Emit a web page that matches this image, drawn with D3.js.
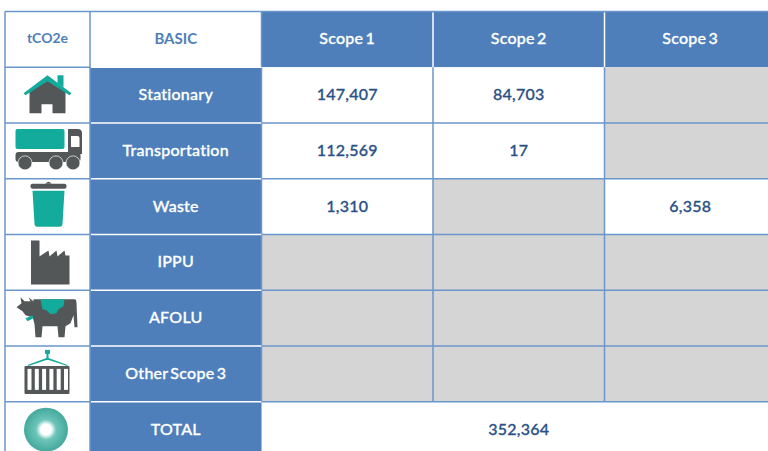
<!DOCTYPE html>
<html>
<head>
<meta charset="utf-8">
<script src="https://cdn.jsdelivr.net/npm/d3@7"></script>
<style>
  html, body { margin: 0; padding: 0; background: #fff; overflow: hidden; }
  svg { display: block; }
  text { font-family: Lato, "Open Sans", sans-serif; font-weight: 500; text-anchor: middle; dominant-baseline: central; font-size: 16px; letter-spacing: 0.25px; word-spacing: -2px; stroke-width: 0.3px; }
  text.strong { font-weight: 700; letter-spacing: 0; stroke-width: 0; }
</style>
</head>
<body>
<svg id="graphsvg" width="768" height="451"></svg>
<script>
var unitLabel = "tCO2e";
var basicLabel = "BASIC";
var scopes = ["Scope 1", "Scope 2", "Scope 3"];
var categories = ["Stationary", "Transportation", "Waste", "IPPU", "AFOLU", "Other Scope 3"];
var icons = ["house", "truck", "bin", "factory", "cow", "container"];
var scope1 = [147407, 112569, 1310, null, null, null];
var scope2 = [84703, 17, null, null, null, null];
var scope3 = [null, null, 6358, null, null, null];
var totalLabel = "TOTAL";
var totalValue = 352364;

var blue = "#4e7fba", line = "#6b96cb", grey = "#d5d5d5", ink = "#2b5186", dark = "#535757", teal = "#13ab9b";
var fmt = d3.format(",");
var svg = d3.select("#graphsvg");

var rowKeys = ["head"].concat(categories, [totalLabel]);
var columns = [basicLabel].concat(scopes);
var y = d3.scaleBand().domain(rowKeys).range([11.5, 457.5]);
var x = d3.scaleBand().domain(columns).range([90, 776]);
var iconLeft = 5, iconRight = x(basicLabel);
var h = y.bandwidth(), w = x.bandwidth();
var textShift = -1.5;

// header
svg.append("rect").attr("x", iconLeft).attr("y", y("head")).attr("width", iconRight - iconLeft).attr("height", h).attr("fill", "#fff");
svg.selectAll(".head").data(scopes).enter().append("rect")
  .attr("class", "head")
  .attr("x", function(d) { return x(d); })
  .attr("y", y("head"))
  .attr("width", w).attr("height", h)
  .attr("fill", blue);

// category column
svg.selectAll(".cat").data(categories.concat([totalLabel])).enter().append("rect")
  .attr("class", "cat")
  .attr("x", x(basicLabel))
  .attr("y", function(d) { return y(d); })
  .attr("width", w).attr("height", h)
  .attr("fill", blue);

// value cells
var series = [scope1, scope2, scope3];
scopes.forEach(function(scope, i) {
  svg.selectAll(".cell" + i).data(series[i]).enter().append("rect")
    .attr("class", "cell" + i)
    .attr("x", x(scope))
    .attr("y", function(d, j) { return y(categories[j]); })
    .attr("width", w).attr("height", h)
    .attr("fill", function(d) { return d === null ? grey : "#fff"; });
});

// grid lines
function hline(x1, x2, yy, color) {
  svg.append("line").attr("x1", x1).attr("x2", x2).attr("y1", yy).attr("y2", yy).attr("stroke", color).attr("stroke-width", 1.5);
}
function vline(xx, y1, y2, color) {
  svg.append("line").attr("x1", xx).attr("x2", xx).attr("y1", y1).attr("y2", y2).attr("stroke", color).attr("stroke-width", 1.5);
}
var right = 768;
hline(iconLeft, right, y("head"), line);
vline(iconLeft, y("head"), 451, line);
vline(iconRight, y("head"), 451, line);
vline(x(scopes[0]), y("head"), y("head") + h, line);
vline(x(scopes[1]), y("head") + 1, y("head") + h, "#fff");
vline(x(scopes[2]), y("head") + 1, y("head") + h, "#fff");
vline(x(scopes[0]), y(categories[0]), y(totalLabel), line);
vline(x(scopes[1]), y(categories[0]), y(totalLabel), line);
vline(x(scopes[2]), y(categories[0]), y(totalLabel), line);
categories.concat([totalLabel]).forEach(function(c) {
  hline(iconLeft, iconRight, y(c), line);
  hline(iconRight + 1, x(scopes[0]), y(c), "#fff");
  if (c !== categories[0]) hline(x(scopes[0]), right, y(c), line);
});

// text
svg.append("text").attr("class", "strong").attr("x", (iconLeft + iconRight) / 2).attr("y", y("head") + h / 2 + textShift).attr("fill", blue).style("font-size", "14px").text(unitLabel);
svg.append("text").attr("class", "strong").attr("x", x(basicLabel) + w / 2).attr("y", y("head") + h / 2 + textShift).attr("fill", blue).style("font-size", "15px").text(basicLabel);
svg.selectAll(".scope").data(scopes).enter().append("text")
  .attr("class", "scope")
  .attr("x", function(d) { return x(d) + w / 2; })
  .attr("y", y("head") + h / 2 + textShift)
  .attr("fill", "#fff").attr("stroke", "#fff")
  .text(function(d) { return d; });
svg.selectAll(".catLabel").data(categories.concat([totalLabel])).enter().append("text")
  .attr("class", "catLabel")
  .attr("x", x(basicLabel) + w / 2)
  .attr("y", function(d) { return y(d) + h / 2 + textShift; })
  .attr("fill", "#fff").attr("stroke", "#fff")
  .text(function(d) { return d; });
scopes.forEach(function(scope, i) {
  svg.selectAll(".val" + i).data(series[i]).enter().filter(function(d) { return d !== null; }).append("text")
    .attr("class", "val" + i)
    .attr("x", x(scope) + w / 2)
    .attr("y", function(d) { return y(categories[series[i].indexOf(d)]) + h / 2 + textShift; })
    .attr("fill", ink).attr("stroke", ink)
    .text(function(d) { return fmt(d); });
});
svg.append("text").attr("x", x(scopes[1]) + w / 2).attr("y", y(totalLabel) + h / 2 + textShift).attr("fill", ink).attr("stroke", ink).text(fmt(totalValue));

// icons, drawn around the centre of their cell
var defs = svg.append("defs");
var grad = defs.append("radialGradient").attr("id", "ring");
grad.append("stop").attr("offset", "24%").attr("stop-color", "#ffffff");
grad.append("stop").attr("offset", "46%").attr("stop-color", "#6cc5b9");
grad.append("stop").attr("offset", "100%").attr("stop-color", "#45a89c");

function iconGroup(key) {
  return svg.append("g").attr("transform", "translate(" + ((iconLeft + iconRight) / 2) + "," + (y(key) + h / 2) + ")");
}
function shape(g, d, fill) { return g.append("path").attr("d", d).attr("fill", fill); }

var draw = {
  house: function(g) {
    shape(g, "M-18,-3 L0,-17 L18,-3 L18,18 L5,18 L5,9 L-6,9 L-6,18 L-18,18 Z", dark);
    shape(g, "M10,-20 L16,-20 L16,-8 L10,-12 Z", teal);
    shape(g, "M-24,-2 L0,-20 L24,-2 L22,0 L0,-14 L-22,0 Z", teal);
  },
  truck: function(g) {
    g.append("rect").attr("x", -32).attr("y", -22).attr("width", 49).attr("height", 20).attr("rx", 2).attr("fill", teal);
    shape(g, "M20.5,-22 L30,-22 Q34.5,-22 34.5,-18 L34.5,3 L20.5,3 Z", dark);
    shape(g, "M23.5,-15 L30,-15 Q32,-15 32,-13 L32,-4 L23.5,-4 Z", "#fff");
    g.append("rect").attr("x", -32).attr("y", 1).attr("width", 65).attr("height", 10).attr("rx", 3).attr("fill", dark);
    [-22.5, 8.5, 25.5].forEach(function(cx) {
      g.append("circle").attr("cx", cx).attr("cy", 12).attr("r", 7).attr("fill", dark).attr("stroke", "#fff").attr("stroke-width", 0.7);
    });
  },
  bin: function(g) {
    g.append("rect").attr("x", -17).attr("y", -23).attr("width", 36).attr("height", 5).attr("rx", 2).attr("fill", dark);
    shape(g, "M-2,-23 Q1,-27 4,-23 Z", dark);
    shape(g, "M-15,-16 L17,-16 L15,17 Q15,20 12,20 L-10,20 Q-13,20 -13,17 Z", teal);
  },
  factory: function(g) {
    shape(g, "M-16.5,-22 L-8,-22 L-8,-6 L1,-12 L2,-6 L9,-12 L10,-6 L17,-12 L18,-7 L22,-7 L22,22 L-16.5,22 Z", dark);
  },
  cow: function(g) {
    // body, legs and tail
    shape(g, "M-14,-19 L27,-19 Q29,-19 29,-15 L30,9 L27,9 L26,-3 L23,5 L18,8 L17,19 L11,19 L10,8 L-5,8 L-6,19 L-12,19 L-13,6 L-15,-2 Z", dark);
    // head and horns
    shape(g, "M-14,-17 L-19,-21 L-17,-17 L-23,-17 L-27,-21 L-26,-15 L-31,-11 L-25,-7 L-22,-3 L-15,-1 L-11,-8 Z", dark);
    shape(g, "M-7,-19 L17,-19 L16,-12 L11,-9 L9,-5 L3,-4 L-1,-8 L-5,-9 Z", teal);
    shape(g, "M-22,0 L-15,-3 L-14,0 L-20,3 Z", teal);
  },
  container: function(g) {
    g.append("rect").attr("x", -23).attr("y", -8).attr("width", 45).attr("height", 28).attr("rx", 1).attr("fill", dark);
    d3.range(6).forEach(function(i) {
      g.append("rect").attr("x", -20 + i * 7.3).attr("y", -5).attr("width", 4).attr("height", 21).attr("fill", "#fff");
    });
    shape(g, "M-1,-21 L-1,-16 L-20,-9 L-19,-8 L-1,-14 L1,-14 L20,-8 L20,-9 L1,-16 L1,-21 Z", teal);
    g.append("rect").attr("x", -2.5).attr("y", -24).attr("width", 5).attr("height", 4).attr("fill", teal);
  }
};
icons.forEach(function(name, i) { draw[name](iconGroup(categories[i])); });
iconGroup(totalLabel).append("circle").attr("cx", -1.5).attr("cy", 0).attr("r", 22).attr("fill", "url(#ring)");
</script>
</body>
</html>
